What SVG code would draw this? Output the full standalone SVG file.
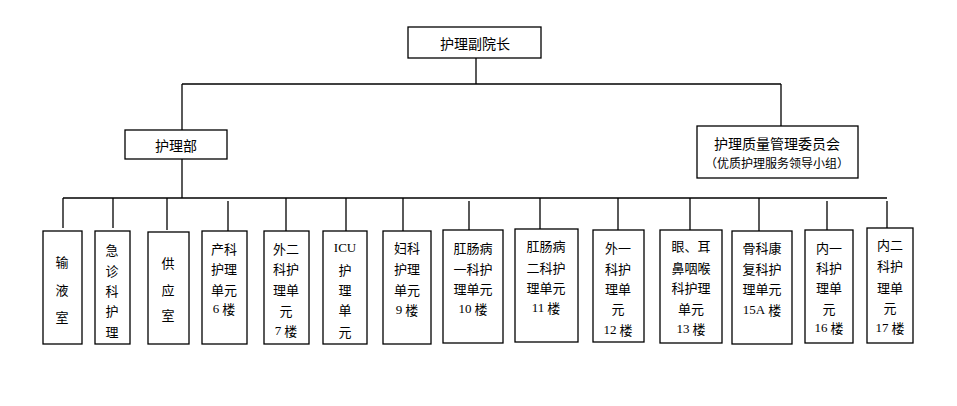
<svg xmlns="http://www.w3.org/2000/svg" width="957" height="406" viewBox="0 0 957 406">
<style>
.b{fill:#fff;stroke:#000;stroke-width:1.3}
.c line{stroke:#000;stroke-width:1.3}
text{font-family:"Noto Sans CJK SC","Noto Sans",sans-serif;font-size:13px;fill:#000;text-anchor:middle;dominant-baseline:central}
.t{font-size:14px}
.s{font-size:12px}
.n{font-family:"Liberation Serif",serif}
</style>
<rect width="957" height="406" fill="#fff"/>
<g class="c" id="connectors">
<line x1="476" y1="58" x2="476" y2="84"/>
<line x1="182" y1="84" x2="781" y2="84"/>
<line x1="182" y1="84" x2="182" y2="130"/>
<line x1="781" y1="84" x2="781" y2="126"/>
<line x1="182" y1="159" x2="182" y2="198"/>
<line x1="63" y1="198" x2="887" y2="198"/>
<line x1="63" y1="198" x2="63" y2="228"/>
<line x1="113" y1="198" x2="113" y2="228"/>
<line x1="167" y1="198" x2="167" y2="230"/>
<line x1="228" y1="201" x2="228" y2="231"/>
<line x1="286" y1="198" x2="286" y2="231"/>
<line x1="346" y1="198" x2="346" y2="231"/>
<line x1="403" y1="198" x2="403" y2="231"/>
<line x1="469" y1="201" x2="469" y2="230"/>
<line x1="540" y1="198" x2="540" y2="229"/>
<line x1="618" y1="198" x2="618" y2="230"/>
<line x1="690" y1="198" x2="690" y2="230"/>
<line x1="759" y1="198" x2="759" y2="231"/>
<line x1="827" y1="201" x2="827" y2="230"/>
<line x1="887" y1="201" x2="887" y2="228"/>
</g>
<g id="n-top"><rect class="b" x="408" y="27" width="133" height="31"/><text class="t" x="475" y="43">护理副院长</text></g>
<g id="n-hlb"><rect class="b" x="125" y="130" width="102" height="29"/><text class="t" x="176" y="145">护理部</text></g>
<g id="n-wyh"><rect class="b" x="697" y="126" width="161" height="52"/><text class="t" x="777" y="143">护理质量管理委员会</text><text class="s" x="777" y="162">（优质护理服务领导小组）</text></g>
<g id="n1"><rect class="b" x="43" y="231" width="39" height="113"/><text x="62" y="261">输</text><text x="62" y="289">液</text><text x="62" y="316">室</text></g>
<g id="n2"><rect class="b" x="95" y="231" width="35" height="113"/><text x="112" y="249">急</text><text x="112" y="270">诊</text><text x="112" y="290">科</text><text x="112" y="310">护</text><text x="112" y="331">理</text></g>
<g id="n3"><rect class="b" x="148" y="232" width="41" height="112"/><text x="168" y="262">供</text><text x="168" y="289">应</text><text x="168" y="314">室</text></g>
<g id="n4"><rect class="b" x="202" y="231" width="45" height="113"/><text x="224" y="248">产科</text><text x="224" y="268">护理</text><text x="224" y="289">单元</text><text x="224" y="308"><tspan class="n">6</tspan> 楼</text></g>
<g id="n5"><rect class="b" x="264" y="231" width="45" height="113"/><text x="286" y="248">外二</text><text x="286" y="268">科护</text><text x="286" y="289">理单</text><text x="286" y="310">元</text><text x="286" y="330"><tspan class="n">7</tspan> 楼</text></g>
<g id="n6"><rect class="b" x="323" y="231" width="44" height="113"/><text class="n" x="345" y="247">ICU</text><text x="345" y="269">护</text><text x="345" y="289">理</text><text x="345" y="309">单</text><text x="345" y="331">元</text></g>
<g id="n7"><rect class="b" x="383" y="231" width="48" height="113"/><text x="407" y="247">妇科</text><text x="407" y="268">护理</text><text x="407" y="289">单元</text><text x="407" y="309"><tspan class="n">9</tspan> 楼</text></g>
<g id="n8"><rect class="b" x="443" y="230" width="60" height="113"/><text x="473" y="247">肛肠病</text><text x="473" y="268">一科护</text><text x="473" y="288">理单元</text><text x="473" y="308"><tspan class="n">10</tspan> 楼</text></g>
<g id="n9"><rect class="b" x="515" y="229" width="63" height="113"/><text x="546" y="245">肛肠病</text><text x="546" y="267">二科护</text><text x="546" y="287">理单元</text><text x="546" y="307"><tspan class="n">11</tspan> 楼</text></g>
<g id="n10"><rect class="b" x="593" y="230" width="51" height="112"/><text x="618" y="247">外一</text><text x="618" y="268">科护</text><text x="618" y="288">理单</text><text x="618" y="308">元</text><text x="618" y="329"><tspan class="n">12</tspan> 楼</text></g>
<g id="n11"><rect class="b" x="660" y="230" width="62" height="113"/><text x="691" y="245">眼、耳</text><text x="691" y="267">鼻咽喉</text><text x="691" y="287">科护理</text><text x="691" y="308">单元</text><text x="691" y="328"><tspan class="n">13</tspan> 楼</text></g>
<g id="n12"><rect class="b" x="732" y="231" width="60" height="113"/><text x="762" y="247">骨科康</text><text x="762" y="268">复科护</text><text x="762" y="288">理单元</text><text x="762" y="309"><tspan class="n">15A</tspan> 楼</text></g>
<g id="n13"><rect class="b" x="805" y="230" width="48" height="113"/><text x="829" y="247">内一</text><text x="829" y="267">科护</text><text x="829" y="287">理单</text><text x="829" y="308">元</text><text x="829" y="327"><tspan class="n">16</tspan> 楼</text></g>
<g id="n14"><rect class="b" x="867" y="228" width="46" height="115"/><text x="890" y="244">内二</text><text x="890" y="265">科护</text><text x="890" y="287">理单</text><text x="890" y="307">元</text><text x="890" y="327"><tspan class="n">17</tspan> 楼</text></g>
</svg>
